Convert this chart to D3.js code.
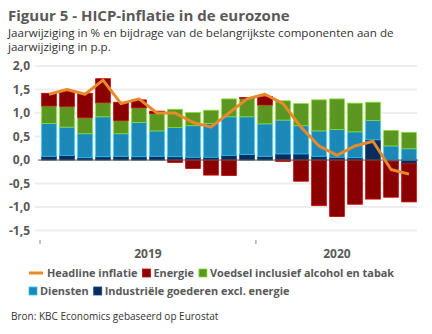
<!DOCTYPE html>
<html>
<head>
<meta charset="utf-8">
<script src="https://cdn.jsdelivr.net/npm/d3@7"></script>
<style>
  html, body { margin: 0; padding: 0; background: #ffffff; }
  svg { display: block; font-family: "Open Sans", "DejaVu Sans", sans-serif; }
</style>
</head>
<body>
<svg id="chart" width="432" height="334"></svg>
<script>
// Months Jan 2019 - Sep 2020
const months = ['2019-01', '2019-02', '2019-03', '2019-04', '2019-05', '2019-06',
    '2019-07', '2019-08', '2019-09', '2019-10', '2019-11', '2019-12',
    '2020-01', '2020-02', '2020-03', '2020-04', '2020-05', '2020-06',
    '2020-07', '2020-08', '2020-09'];

// Contributions in p.p.
const industrie = [0.08, 0.10, 0.05, 0.07, 0.08, 0.07, 0.08, 0.07, 0.06, 0.06, 0.10, 0.12,
    0.08, 0.13, 0.13, 0.08, 0.06, 0.05, 0.43, -0.03, -0.08];
const diensten = [0.70, 0.60, 0.51, 0.85, 0.48, 0.73, 0.54, 0.62, 0.67, 0.72, 0.82, 0.80,
    0.69, 0.72, 0.60, 0.54, 0.59, 0.55, 0.41, 0.30, 0.24];
const voedsel = [0.37, 0.44, 0.34, 0.30, 0.28, 0.31, 0.37, 0.39, 0.28, 0.28, 0.38, 0.39,
    0.40, 0.41, 0.47, 0.66, 0.65, 0.61, 0.39, 0.33, 0.35];
const energie = [0.27, 0.33, 0.52, 0.51, 0.39, 0.17, 0.05, -0.05, -0.18, -0.32, -0.33, 0.02,
    0.18, -0.03, -0.45, -0.97, -1.20, -0.94, -0.83, -0.76, -0.81];

// Headline inflation, y/y %
const headline = [1.4, 1.5, 1.4, 1.7, 1.2, 1.3, 1.0, 1.0, 0.8, 0.7, 1.0, 1.3,
    1.4, 1.2, 0.7, 0.3, 0.1, 0.3, 0.4, -0.2, -0.3];

const yTicks = [-1.5, -1.0, -0.5, 0, 0.5, 1.0, 1.5, 2.0];
const years = ['2019', '2020'];

const seriesKeys = ['industrie', 'diensten', 'voedsel', 'energie'];
const colors = {
    headline: '#e8892b',
    energie: '#8a0000',
    voedsel: '#5b9620',
    diensten: '#1b88b8',
    industrie: '#082d5c'
};

const svg = d3.select('#chart');
const textGrey = '#595959';

// Titles
svg.append('text')
    .attr('x', 8).attr('y', 21)
    .style('font-size', '15px').style('font-weight', '700')
    .style('fill', textGrey)
    .text('Figuur 5 - HICP-inflatie in de eurozone');

svg.append('text')
    .attr('x', 8).attr('y', 37)
    .style('font-size', '11.6px').style('fill', '#333')
    .text('Jaarwijziging in % en bijdrage van de belangrijkste componenten aan de');

svg.append('text')
    .attr('x', 8).attr('y', 51)
    .style('font-size', '11.6px').style('fill', '#333')
    .text('jaarwijziging in p.p.');

// Scales
const x = d3.scaleBand()
    .domain(months)
    .range([40, 418])
    .paddingInner(0.14)
    .paddingOuter(0.07);

const y = d3.scaleLinear()
    .domain([-1.7, 2.0])
    .range([240, 66]);

// Gridlines + y labels
const yAxis = svg.append('g');
yAxis.selectAll('line')
    .data(yTicks.filter(d => d !== 0))
    .enter().append('line')
    .attr('x1', 35).attr('x2', 417)
    .attr('y1', d => y(d)).attr('y2', d => y(d))
    .attr('stroke', '#eeeeee')
    .attr('stroke-width', 2);

yAxis.selectAll('text')
    .data(yTicks)
    .enter().append('text')
    .attr('x', 30)
    .attr('y', d => y(d))
    .attr('dy', '0.35em')
    .attr('text-anchor', 'end')
    .style('font-size', '12px').style('font-weight', '700')
    .style('fill', textGrey)
    .text(d => d3.format('.1f')(d).replace('.', ',').replace('−', '-'));

// Stacked bars, negatives stacked below zero
const rows = months.map((m, i) => ({
    month: m,
    industrie: industrie[i],
    diensten: diensten[i],
    voedsel: voedsel[i],
    energie: energie[i]
}));

const stack = d3.stack()
    .keys(seriesKeys)
    .offset(d3.stackOffsetDiverging);

const layers = svg.append('g')
    .selectAll('g')
    .data(stack(rows))
    .enter().append('g')
    .attr('fill', d => colors[d.key])
    .attr('stroke', d => d3.color(colors[d.key]).brighter(1.1))
    .attr('stroke-width', 0.8);

layers.selectAll('rect')
    .data(d => d)
    .enter().append('rect')
    .attr('x', d => x(d.data.month) + 0.4)
    .attr('width', x.bandwidth() - 0.8)
    .attr('y', d => y(Math.max(d[0], d[1])))
    .attr('height', d => Math.abs(y(d[0]) - y(d[1])));

// Zero line
svg.append('line')
    .attr('x1', 38).attr('x2', 418)
    .attr('y1', y(0)).attr('y2', y(0))
    .attr('stroke', '#555')
    .attr('stroke-width', 1);

// Headline line
const line = d3.line()
    .x((d, i) => x(months[i]) + x.bandwidth() / 2)
    .y(d => y(d));

svg.append('path')
    .datum(headline)
    .attr('d', line)
    .attr('fill', 'none')
    .attr('stroke', colors.headline)
    .attr('stroke-width', 3)
    .attr('stroke-linejoin', 'round');

// Year axis
const t = d3.scaleTime()
    .domain([new Date(2019, 0, 1), new Date(2020, 9, 1)])
    .range([40, 418]);

const yearStarts = years.map(yr => new Date(+yr, 0, 1));
svg.append('g')
    .selectAll('line')
    .data(yearStarts)
    .enter().append('line')
    .attr('x1', d => t(d)).attr('x2', d => t(d))
    .attr('y1', 240).attr('y2', 244)
    .attr('stroke', '#888').attr('stroke-width', 1);

svg.append('g')
    .selectAll('text')
    .data(years)
    .enter().append('text')
    .attr('x', (d, i) => {
        const a = t(yearStarts[i]);
        const b = i < years.length - 1 ? t(yearStarts[i + 1]) : t.range()[1];
        return (a + b) / 2;
    })
    .attr('y', 258)
    .attr('text-anchor', 'middle')
    .style('font-size', '12px').style('font-weight', '700')
    .style('fill', textGrey)
    .text(d => d);

// Legend
const legendRows = [
    [
        { key: 'headline', label: 'Headline inflatie', type: 'line' },
        { key: 'energie', label: 'Energie' },
        { key: 'voedsel', label: 'Voedsel inclusief alcohol en tabak' }
    ],
    [
        { key: 'diensten', label: 'Diensten' },
        { key: 'industrie', label: 'Industriële goederen excl. energie' }
    ]
];

legendRows.forEach((items, r) => {
    const cy = 273 + r * 18;
    let cx = 29;
    items.forEach(item => {
        if (item.type === 'line') {
            svg.append('line')
                .attr('x1', cx).attr('x2', cx + 14)
                .attr('y1', cy).attr('y2', cy)
                .attr('stroke', colors[item.key])
                .attr('stroke-width', 3);
            cx += 18;
        } else {
            svg.append('rect')
                .attr('x', cx).attr('y', cy - 4)
                .attr('width', 8).attr('height', 8)
                .attr('fill', colors[item.key])
                .attr('stroke', d3.color(colors[item.key]).brighter(1.1))
                .attr('stroke-width', 0.8);
            cx += 11;
        }
        const label = svg.append('text')
            .attr('x', cx).attr('y', cy)
            .attr('dy', '0.35em')
            .style('font-size', '10.9px').style('font-weight', '700')
            .style('fill', textGrey)
            .text(item.label);
        cx += label.node().getComputedTextLength() + 5;
    });
});

// Source
svg.append('text')
    .attr('x', 11).attr('y', 320)
    .style('font-size', '10px').style('fill', '#333')
    .text('Bron: KBC Economics gebaseerd op Eurostat');
</script>
</body>
</html>
